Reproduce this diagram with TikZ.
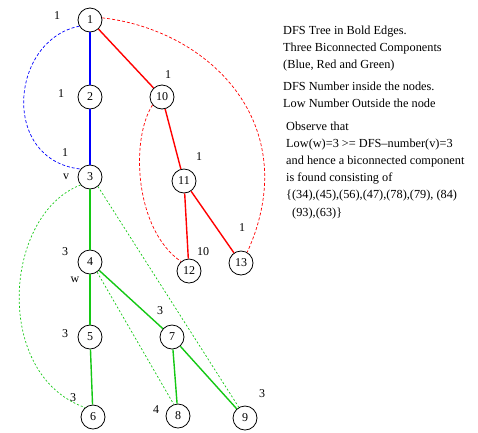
\documentclass[tikz,border=0pt]{standalone}
\usepackage{fontspec}
\setmainfont{Liberation Serif}
\begin{document}
\begin{tikzpicture}[x=1pt,y=-1pt,
  vtx/.style={circle,draw=black,line width=0.8pt,minimum size=24pt,inner sep=0pt,font=\fontsize{12}{12}\selectfont},
  lab/.style={inner sep=0pt,font=\fontsize{12}{12}\selectfont},
  txt/.style={anchor=base west,inner sep=0pt,font=\fontsize{12.3}{17}\selectfont},
  treeB/.style={draw=blue,line width=1.4pt},
  treeR/.style={draw=red,line width=1.4pt},
  treeG/.style={draw=gcol,line width=1.4pt},
  backB/.style={draw=blue,line width=0.7pt,dash pattern=on 3pt off 2pt},
  backR/.style={draw=red,line width=0.7pt,dash pattern=on 3pt off 2pt},
  backG/.style={draw=gcol,line width=0.7pt,dash pattern=on 2pt off 2pt}]
\definecolor{gcol}{RGB}{20,200,20}
\useasboundingbox (0,0) rectangle (478,432);
% nodes
\node[vtx] (n1) at (90,20) {1};
\node[vtx] (n2) at (90,97) {2};
\node[vtx] (n10) at (162,97) {10};
\node[vtx] (n3) at (90,177) {3};
\node[vtx] (n11) at (184,181) {11};
\node[vtx] (n12) at (189,271) {12};
\node[vtx] (n13) at (241,263) {13};
\node[vtx] (n4) at (90,262) {4};
\node[vtx] (n5) at (90,337) {5};
\node[vtx] (n7) at (172,337) {7};
\node[vtx] (n6) at (93,417) {6};
\node[vtx] (n8) at (178,416) {8};
\node[vtx] (n9) at (245,418) {9};
% tree edges
\draw[treeB] (n1) -- (n2);
\draw[treeB] (n2) -- (n3);
\draw[treeR] (n1) -- (n10);
\draw[treeR] (n10) -- (n11);
\draw[treeR] (n11) -- (n12);
\draw[treeR] (n11) -- (n13);
\draw[treeG] (n3) -- (n4);
\draw[treeG] (n4) -- (n5);
\draw[treeG] (n5) -- (n6);
\draw[treeG] (n4) -- (n7);
\draw[treeG] (n7) -- (n8);
\draw[treeG] (n7) -- (n9);
% back edges
\draw[backB] (n1.210) .. controls (10,40) and (0,160) .. (n3.140);
\draw[backR] (n1.10) .. controls (210,30) and (305,125) .. (n13.60);
\draw[backR] (n10.220) .. controls (130,140) and (135,230) .. (n12.130);
\draw[backG] (n3.220) .. controls (3,215) and (-7,375) .. (n6.130);
\draw[backG] (n3.-50) -- (n9.120);
\draw[backG] (n4.-55) -- (n8.110);
% low numbers
\node[lab] (l1) at (57,16) {1};
\node[lab] (l2) at (61,94) {1};
\node[lab] (l10) at (168,75) {1};
\node[lab] (l3) at (65,153) {1};
\node[lab] (lv) at (66,177) {v};
\node[lab] (l11) at (199,157) {1};
\node[lab] (l13) at (242,228) {1};
\node[lab] (l12) at (203,252) {10};
\node[lab] (l4) at (65,252) {3};
\node[lab] (lw) at (75,280) {w};
\node[lab] (l5) at (65,334) {3};
\node[lab] (l7) at (160,311) {3};
\node[lab] (l6) at (73,398) {3};
\node[lab] (l8) at (156,410) {4};
\node[lab] (l9) at (262,394) {3};
% text
\node[txt] (t1) at (283,34) {DFS Tree in Bold Edges.};
\node[txt] (t2) at (283,51) {Three Biconnected Components};
\node[txt] (t3) at (283,68) {(Blue, Red and Green)};
\node[txt] (t4) at (283,90) {DFS Number inside the nodes.};
\node[txt] (t5) at (283,107) {Low Number Outside the node};
\node[txt] (t6) at (286,130) {Observe that};
\node[txt] (t7) at (286,147) {Low(w)=3 >= DFS--number(v)=3};
\node[txt] (t8) at (286,164) {and hence a biconnected component};
\node[txt] (t9) at (286,181) {is found consisting of};
\node[txt] (t10) at (286,198) {\{(34),(45),(56),(47),(78),(79), (84)};
\node[txt] (t11) at (292,216) {(93),(63)\}};
\end{tikzpicture}
\end{document}
